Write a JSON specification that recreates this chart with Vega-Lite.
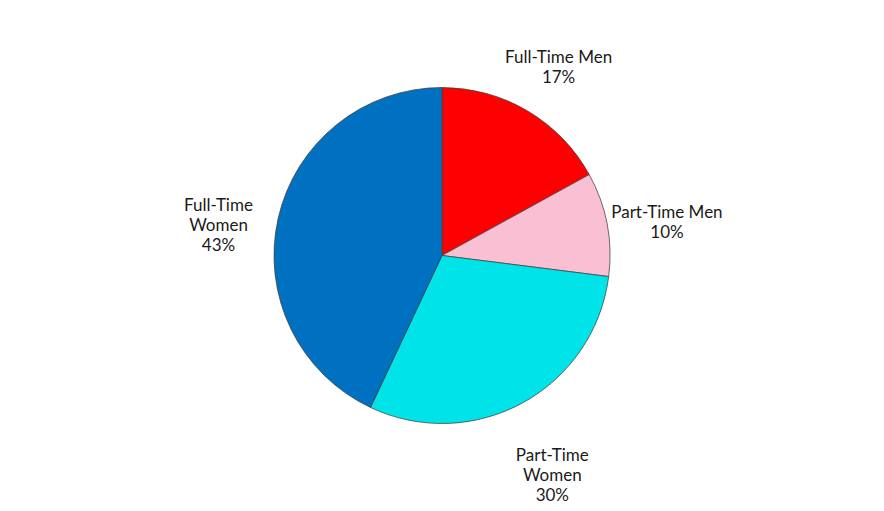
{
  "$schema": "https://vega.github.io/schema/vega-lite/v6.json",
  "width": 884,
  "height": 511,
  "autosize": {"type": "fit", "contains": "padding"},
  "background": "white",
  "config": {"view": {"stroke": null}},
  "data": {
    "values": [
      {"category": "Full-Time Men", "order": 1, "value": 17, "label": ["Full-Time Men", "17%"]},
      {"category": "Part-Time Men", "order": 2, "value": 10, "label": ["Part-Time Men", "10%"]},
      {"category": "Part-Time Women", "order": 3, "value": 30, "label": ["Part-Time", "Women", "30%"]},
      {"category": "Full-Time Women", "order": 4, "value": 43, "label": ["Full-Time", "Women", "43%"]}
    ]
  },
  "encoding": {
    "theta": {"field": "value", "type": "quantitative", "stack": true},
    "order": {"field": "order", "type": "quantitative"}
  },
  "layer": [
    {
      "mark": {"type": "arc", "outerRadius": 168, "stroke": "#404040", "strokeWidth": 0.75},
      "encoding": {
        "color": {
          "field": "category",
          "type": "nominal",
          "scale": {
            "domain": ["Full-Time Men", "Part-Time Men", "Part-Time Women", "Full-Time Women"],
            "range": ["#FF0000", "#F9BFD3", "#00E3E8", "#0070C0"]
          },
          "legend": null
        }
      }
    },
    {
      "mark": {"type": "text", "radius": 229, "font": "Lato", "fontSize": 17, "color": "#1a1a1a", "lineHeight": 20},
      "encoding": {"text": {"field": "label"}}
    }
  ]
}
